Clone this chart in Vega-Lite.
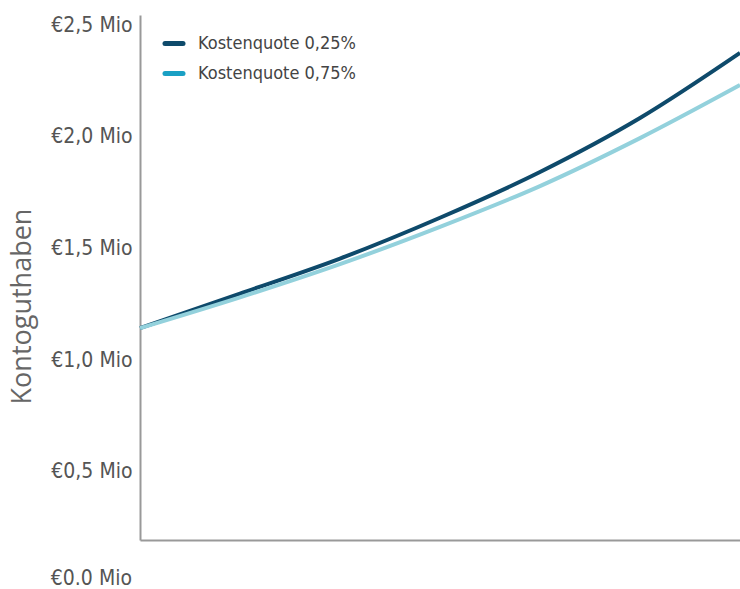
{
  "$schema": "https://vega.github.io/schema/vega-lite/v6.json",
  "width": 600,
  "height": 525,
  "autosize": {"type": "none"},
  "padding": {"left": 140, "top": 15, "right": 0, "bottom": 49},
  "background": "white",
  "config": {"view": {"stroke": null}},
  "datasets": {
    "kurven": [
      {"jahr": 0, "wert": 1.143, "serie": "Kostenquote 0,25%"},
      {"jahr": 5, "wert": 1.298, "serie": "Kostenquote 0,25%"},
      {"jahr": 10, "wert": 1.455, "serie": "Kostenquote 0,25%"},
      {"jahr": 15, "wert": 1.638, "serie": "Kostenquote 0,25%"},
      {"jahr": 20, "wert": 1.843, "serie": "Kostenquote 0,25%"},
      {"jahr": 25, "wert": 2.085, "serie": "Kostenquote 0,25%"},
      {"jahr": 30, "wert": 2.377, "serie": "Kostenquote 0,25%"},
      {"jahr": 0, "wert": 1.143, "serie": "Kostenquote 0,75%"},
      {"jahr": 5, "wert": 1.281, "serie": "Kostenquote 0,75%"},
      {"jahr": 10, "wert": 1.43, "serie": "Kostenquote 0,75%"},
      {"jahr": 15, "wert": 1.597, "serie": "Kostenquote 0,75%"},
      {"jahr": 20, "wert": 1.78, "serie": "Kostenquote 0,75%"},
      {"jahr": 25, "wert": 1.995, "serie": "Kostenquote 0,75%"},
      {"jahr": 30, "wert": 2.233, "serie": "Kostenquote 0,75%"}
    ],
    "null_label": [
      {"jahr": 0, "wert": 0, "text": "€0.0 Mio"}
    ]
  },
  "resolve": {"scale": {"color": "independent"}, "legend": {"color": "independent"}},
  "layer": [
    {
      "data": {"name": "kurven"},
      "mark": {"type": "line", "strokeWidth": 4, "interpolate": "monotone", "strokeCap": "butt"},
      "encoding": {
        "x": {
          "field": "jahr", "type": "quantitative",
          "scale": {"domain": [0, 30], "nice": false, "zero": false},
          "axis": {"title": null, "labels": false, "ticks": false, "grid": false,
                   "domainColor": "#999999", "domainWidth": 2}
        },
        "y": {
          "field": "wert", "type": "quantitative",
          "scale": {"domain": [0.193, 2.547], "nice": false, "zero": false},
          "axis": {
            "values": [0.5, 1, 1.5, 2, 2.5],
            "labelExpr": "'€' + replace(format(datum.value, '.1f'), '.', ',') + ' Mio'",
            "ticks": false, "grid": false,
            "domainColor": "#999999", "domainWidth": 2,
            "labelFont": "DejaVu Sans Condensed",
            "labelFontSize": 21, "labelColor": "#555555", "labelPadding": 8,
            "labelBaseline": "middle",
            "title": "Kontoguthaben",
            "titleFont": "Open Sans", "titleFontSize": 27, "titleFontWeight": "normal",
            "titleColor": "#666666", "titleAngle": -90,
            "titleX": -118, "titleY": 291, "titleAlign": "center", "titleBaseline": "middle"
          }
        },
        "color": {
          "field": "serie", "type": "nominal",
          "scale": {"domain": ["Kostenquote 0,25%", "Kostenquote 0,75%"], "range": ["#0e4a6b", "#93d1dc"]},
          "legend": null
        }
      }
    },
    {
      "data": {"name": "kurven"},
      "mark": {"type": "line", "strokeWidth": 4, "strokeOpacity": 0, "interpolate": "monotone"},
      "encoding": {
        "x": {"field": "jahr", "type": "quantitative"},
        "y": {"field": "wert", "type": "quantitative"},
        "color": {
          "field": "serie", "type": "nominal",
          "scale": {"domain": ["Kostenquote 0,25%", "Kostenquote 0,75%"], "range": ["#0e4a6b", "#1aa0c4"]},
          "legend": {
            "title": null, "orient": "none", "legendX": 22.5, "legendY": 17,
            "symbolType": "stroke", "symbolSize": 324, "symbolStrokeWidth": 5, "symbolOpacity": 1,
            "labelFont": "DejaVu Sans Condensed", "labelLimit": 400,
            "labelFontSize": 18, "labelColor": "#444444", "labelOffset": 12.5,
            "rowPadding": 8, "padding": 0,
            "encode": {"symbols": {"update": {"strokeCap": {"value": "round"}, "strokeOpacity": {"value": 1}, "opacity": {"value": 1}}}}
          }
        }
      }
    },
    {
      "data": {"name": "null_label"},
      "mark": {"type": "text", "align": "right", "baseline": "middle", "dx": -8, "dy": -4, "clip": false,
               "font": "DejaVu Sans Condensed", "fontSize": 21, "color": "#555555"},
      "encoding": {
        "x": {"field": "jahr", "type": "quantitative"},
        "y": {"field": "wert", "type": "quantitative"},
        "text": {"field": "text"}
      }
    }
  ]
}
